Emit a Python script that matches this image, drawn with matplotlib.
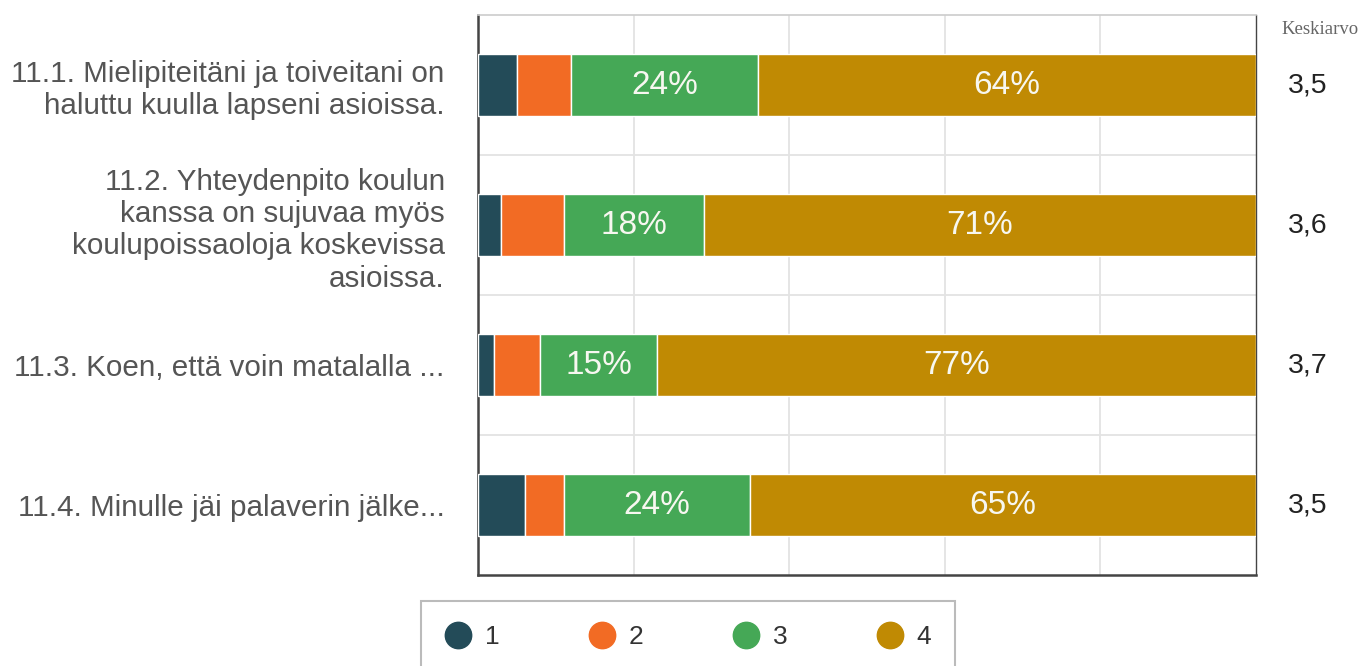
import numpy as np
import matplotlib.pyplot as plt
from matplotlib.lines import Line2D

# Data
questions = [
    "11.1. Mielipiteitäni ja toiveitani on\nhaluttu kuulla lapseni asioissa.",
    "11.2. Yhteydenpito koulun\nkanssa on sujuvaa myös\nkoulupoissaoloja koskevissa\nasioissa.",
    "11.3. Koen, että voin matalalla ...",
    "11.4. Minulle jäi palaverin jälke...",
]
answers = ["1", "2", "3", "4"]
share_1 = [5, 3, 2, 6]
share_2 = [7, 8, 6, 5]
share_3 = [24, 18, 15, 24]
share_4 = [64, 71, 77, 65]
averages = ["3,5", "3,6", "3,7", "3,5"]

colors = ["#234b58", "#f26b24", "#45a856", "#c08a03"]
label_color = "#555555"

plt.rcParams["font.family"] = ["Liberation Sans", "DejaVu Sans"]

fig = plt.figure(figsize=(13.64, 6.66), dpi=100)
ax = fig.add_axes([478 / 1364, 1 - 575 / 666, (1256 - 478) / 1364, (575 - 15) / 666])

y = np.arange(len(questions))
series = [share_1, share_2, share_3, share_4]
left = np.zeros(len(questions))
for vals, col, name in zip(series, colors, answers):
    vals = np.array(vals, dtype=float)
    ax.barh(y, vals, left=left, height=0.44, color=col, edgecolor="white",
            linewidth=1, zorder=3, label=name)
    for yi, v, l in zip(y, vals, left):
        if v >= 10:
            ax.text(l + v / 2, yi, f"{int(v)}%", ha="center", va="center",
                    color="#f7f7f0", fontsize=24, zorder=4)
    left += vals

ax.set_xlim(0, 100)
ax.set_ylim(3.5, -0.5)
ax.set_xticks([20, 40, 60, 80])
ax.set_xticklabels([])
ax.tick_params(axis="x", length=0)
ax.set_yticks(y)
ax.set_yticklabels(questions, fontsize=21.3, color=label_color, linespacing=1.2)
for t in ax.get_yticklabels():
    t.set_multialignment("right")
ax.tick_params(axis="y", length=0, pad=24)
ax.set_yticks([0.5, 1.5, 2.5], minor=True)
ax.tick_params(axis="y", which="minor", length=0)
ax.grid(axis="x", color="#e3e3e3", linewidth=1.3, zorder=0)
ax.grid(axis="y", which="minor", color="#e3e3e3", linewidth=1.3, zorder=0)

for side in ["left", "bottom"]:
    ax.spines[side].set_color("#444444")
    ax.spines[side].set_linewidth(1.8)
ax.spines["right"].set_color("#444444")
ax.spines["right"].set_linewidth(1.0)
ax.spines["top"].set_color("#cccccc")
ax.spines["top"].set_linewidth(1.2)

# Averages column
for yi, a in zip(y, averages):
    ax.text(1.066, yi, a, transform=ax.get_yaxis_transform(), ha="center",
            va="center", fontsize=20.5, color="#222222")
fig.text(1320 / 1364, 1 - 30 / 666, "Keskiarvo", ha="center", va="center",
         fontsize=13.5, color="#666666", family=["Liberation Serif", "DejaVu Serif"])

# Legend
handles = [Line2D([], [], marker="o", linestyle="none", markersize=19,
                  markerfacecolor=c, markeredgecolor=c) for c in colors]
leg = fig.legend(handles, answers, loc="upper center", ncol=4,
                 bbox_to_anchor=(688 / 1364, 1 - 601 / 666), fontsize=19,
                 frameon=True, fancybox=False, handlelength=1.0,
                 handletextpad=0.5, columnspacing=3.4, borderpad=0.9,
                 borderaxespad=0)
leg.get_frame().set_edgecolor("#aaaaaa")
leg.get_frame().set_linewidth(1.5)
for t in leg.get_texts():
    t.set_color("#333333")

fig.savefig("out.png", dpi=100)
